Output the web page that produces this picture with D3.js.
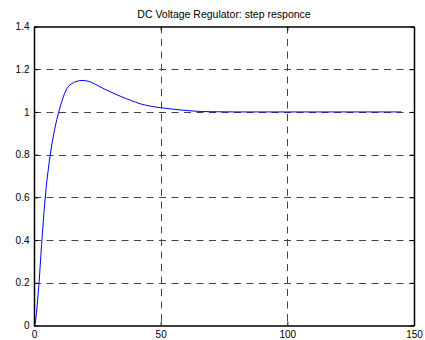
<!DOCTYPE html>
<html>
<head>
<meta charset="utf-8">
<script src="https://cdn.jsdelivr.net/npm/d3@7/dist/d3.min.js"></script>
<style>
  html, body { margin: 0; padding: 0; background: #fff; }
  svg { display: block; }
  text { font-family: "Liberation Sans", Arial, sans-serif; fill: #000; }
</style>
</head>
<body>
<script>
// Step response of the DC voltage regulator output (time, output)
const time = [0, 0.5, 1, 2, 3, 4, 5, 6, 7, 8, 9, 10, 11, 12, 13, 14, 16, 18, 20, 22, 24, 26, 28, 30, 32, 34, 36, 38, 40, 42, 44, 46, 48, 50, 54, 58, 62, 66, 70, 80, 90, 100, 110, 120, 130, 140, 145];
const output = [0, 0.01, 0.06, 0.2, 0.38, 0.54, 0.67, 0.765, 0.845, 0.91, 0.965, 1.01, 1.05, 1.085, 1.11, 1.125, 1.14, 1.147, 1.147, 1.142, 1.131, 1.118, 1.106, 1.095, 1.084, 1.074, 1.064, 1.055, 1.046, 1.038, 1.032, 1.027, 1.023, 1.02, 1.014, 1.009, 1.005, 1.002, 1.001, 1.0, 1.0, 1.0, 1.0, 1.0, 1.0, 1.0, 1.0];

const xTicks = [0, 50, 100, 150];
const yTicks = [0, 0.2, 0.4, 0.6, 0.8, 1, 1.2, 1.4];
const titleText = "DC Voltage Regulator: step responce";

const W = 425, H = 340;
const plotLeft = 34, plotRight = 414, plotTop = 26.5, plotBottom = 325.5;

const x = d3.scaleLinear().domain([0, 150]).range([plotLeft, plotRight]);
const y = d3.scaleLinear().domain([0, 1.4]).range([plotBottom, plotTop]);

const svg = d3.select("body").append("svg").attr("width", W).attr("height", H);

// dashed grid
const grid = svg.append("g").attr("stroke", "#444").attr("stroke-width", 1)
  .attr("stroke-dasharray", "7,5.5").attr("fill", "none");
grid.selectAll(".gx").data(xTicks.slice(1, -1)).join("line")
  .attr("x1", d => Math.round(x(d)) + 0.5).attr("x2", d => Math.round(x(d)) + 0.5)
  .attr("y1", plotTop).attr("y2", plotBottom);
grid.selectAll(".gy").data(yTicks.slice(1, -1)).join("line")
  .attr("y1", d => Math.round(y(d)) + 0.5).attr("y2", d => Math.round(y(d)) + 0.5)
  .attr("x1", plotLeft).attr("x2", plotRight);

// response curve
const line = d3.line().x((d, i) => x(time[i])).y(d => y(d));
svg.append("path").datum(output)
  .attr("d", line).attr("fill", "none")
  .attr("stroke", "#0000ff").attr("stroke-width", 1);

// axes (ticks point inward, box on all four sides)
const axB = svg.append("g").attr("transform", `translate(0,${plotBottom})`)
  .call(d3.axisBottom(x).tickValues(xTicks).tickSizeInner(-4).tickSizeOuter(0).tickPadding(5.5).tickFormat(d3.format("d")));
const axT = svg.append("g").attr("transform", `translate(0,${plotTop})`)
  .call(d3.axisTop(x).tickValues(xTicks).tickSizeInner(-4).tickSizeOuter(0).tickFormat(""));
const axL = svg.append("g").attr("transform", `translate(${plotLeft},0)`)
  .call(d3.axisLeft(y).tickValues(yTicks).tickSizeInner(-4).tickSizeOuter(0).tickPadding(4.5).tickFormat(d => d3.format("~g")(d)));
const axR = svg.append("g").attr("transform", `translate(${plotRight},0)`)
  .call(d3.axisRight(y).tickValues(yTicks).tickSizeInner(-4).tickSizeOuter(0).tickFormat(""));

[axB, axT, axL, axR].forEach(a => {
  a.select(".domain").attr("stroke", "#000").attr("stroke-width", 1.5);
  a.selectAll(".tick line").attr("stroke", "#000").attr("stroke-width", 1);
  a.selectAll("text").attr("font-size", 10).attr("font-family", "Liberation Sans, Arial, sans-serif").attr("fill", "#000");
});

// title
svg.append("text").attr("x", (plotLeft + plotRight) / 2).attr("y", 18.3)
  .attr("text-anchor", "middle").attr("font-size", 10.5)
  .text(titleText);
</script>
</body>
</html>
